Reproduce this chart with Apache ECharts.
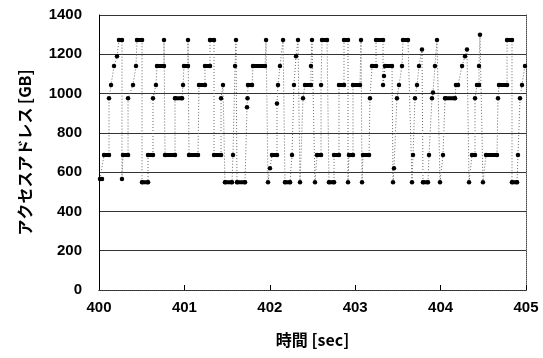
<!DOCTYPE html>
<html>
<head>
<meta charset="utf-8">
<script src="https://cdn.jsdelivr.net/npm/echarts@6/dist/echarts.min.js"></script>
<style>
  html, body { margin: 0; padding: 0; background: #fff; }
  #chart { width: 543px; height: 358px; }
</style>
</head>
<body>
<div id="chart"></div>
<script>
// アクセス区間（時間 [sec] の開始・終了とアドレス [GB]）
const runStart = [
  400.012, 400.059, 400.117, 400.141, 400.176, 400.211, 400.234, 400.269, 400.281, 400.340,
  400.398, 400.433, 400.445, 400.504, 400.574, 400.632, 400.667, 400.679, 400.761, 400.773,
  400.890, 400.984, 400.995, 401.042, 401.054, 401.171, 401.241, 401.300, 401.347, 401.429,
  401.452, 401.475, 401.569, 401.593, 401.604, 401.616, 401.733, 401.739, 401.745, 401.803,
  401.956, 401.979, 402.002, 402.026, 402.084, 402.096, 402.119, 402.155, 402.178, 402.260,
  402.283, 402.307, 402.330, 402.354, 402.389, 402.412, 402.482, 402.494, 402.529, 402.553,
  402.600, 402.611, 402.693, 402.752, 402.810, 402.869, 402.916, 402.927, 402.974, 403.068,
  403.080, 403.091, 403.173, 403.197, 403.244, 403.326, 403.337, 403.349, 403.443, 403.454,
  403.489, 403.513, 403.548, 403.560, 403.665, 403.677, 403.700, 403.724, 403.747, 403.782,
  403.794, 403.864, 403.899, 403.911, 403.934, 403.958, 403.993, 404.028, 404.052, 404.180,
  404.251, 404.286, 404.309, 404.333, 404.368, 404.403, 404.426, 404.450, 404.461, 404.496,
  404.532, 404.672, 404.684, 404.778, 404.836, 404.906, 404.930, 404.953, 404.988
];
const runEnd = [
  400.035, 400.117, 400.117, 400.141, 400.176, 400.211, 400.269, 400.269, 400.340, 400.340,
  400.398, 400.433, 400.504, 400.574, 400.632, 400.632, 400.667, 400.761, 400.761, 400.890,
  400.972, 400.984, 401.042, 401.042, 401.159, 401.241, 401.300, 401.347, 401.429, 401.429,
  401.452, 401.557, 401.569, 401.593, 401.604, 401.710, 401.733, 401.739, 401.792, 401.944,
  401.956, 401.979, 402.002, 402.084, 402.084, 402.096, 402.119, 402.155, 402.237, 402.260,
  402.283, 402.307, 402.330, 402.354, 402.389, 402.482, 402.482, 402.494, 402.529, 402.600,
  402.600, 402.670, 402.752, 402.810, 402.869, 402.916, 402.916, 402.974, 403.056, 403.068,
  403.080, 403.162, 403.173, 403.244, 403.326, 403.326, 403.337, 403.431, 403.443, 403.454,
  403.489, 403.513, 403.548, 403.618, 403.665, 403.677, 403.700, 403.724, 403.747, 403.782,
  403.852, 403.864, 403.899, 403.911, 403.934, 403.958, 403.993, 404.028, 404.169, 404.204,
  404.251, 404.286, 404.309, 404.333, 404.403, 404.403, 404.450, 404.450, 404.461, 404.496,
  404.660, 404.672, 404.778, 404.836, 404.895, 404.906, 404.930, 404.953, 404.988
];
const runValue = [
  565, 687, 976, 1044, 1140, 1190, 1273, 565, 687, 976,
  1044, 1140, 1273, 549, 687, 976, 1044, 1140, 1273, 687,
  976, 1044, 1140, 1273, 687, 1044, 1140, 1273, 687, 976,
  1044, 549, 687, 1140, 1273, 549, 930, 976, 1044, 1140,
  1273, 549, 620, 687, 950, 1044, 1140, 1273, 549, 687,
  1044, 1190, 1273, 549, 976, 1044, 1140, 1273, 549, 687,
  1044, 1273, 549, 687, 1044, 1273, 549, 687, 1044, 1273,
  549, 687, 976, 1140, 1273, 1044, 1090, 1140, 549, 620,
  976, 1044, 1140, 1273, 549, 687, 976, 1044, 1140, 1225,
  549, 687, 976, 1005, 1140, 1273, 549, 687, 976, 1044,
  1140, 1190, 1225, 549, 687, 976, 1044, 1140, 1300, 549,
  687, 976, 1044, 1273, 549, 687, 976, 1044, 1140
];

const xTicks = [400, 401, 402, 403, 404, 405];
const yTicks = [0, 200, 400, 600, 800, 1000, 1200, 1400];

// 区間を順番につないだ点列（始点と終点）
const trace = [];
runStart.forEach((s, i) => {
  trace.push([s, runValue[i]]);
  if (runEnd[i] !== s) trace.push([runEnd[i], runValue[i]]);
});
const runs = runStart.map((s, i) => [s, runEnd[i], runValue[i]]);

const numFont = '"Liberation Sans", Arial, sans-serif';
const jpFont = '"Noto Sans CJK JP", sans-serif';

const chart = echarts.init(document.getElementById('chart'));
chart.setOption({
  animation: false,
  grid: { left: 99, right: 17, top: 15, bottom: 68 },
  xAxis: [{
    type: 'value',
    min: xTicks[0],
    max: xTicks[xTicks.length - 1],
    interval: 1,
    name: '時間 [sec]',
    nameLocation: 'middle',
    nameGap: 42,
    nameTextStyle: { fontFamily: jpFont, fontWeight: 'bold', fontSize: 16, color: '#000' },
    axisLine: { lineStyle: { color: '#000', width: 1 } },
    axisTick: { inside: true, length: 5, lineStyle: { color: '#000' } },
    axisLabel: {
      margin: 10, fontFamily: numFont, fontWeight: 'bold', fontSize: 15, color: '#000',
      formatter: v => String(v)
    },
    splitLine: { show: false }
  }, {
    type: 'value',
    position: 'top',
    min: xTicks[0],
    max: xTicks[xTicks.length - 1],
    axisLine: { lineStyle: { color: '#444', type: [1, 1] } },
    axisTick: { show: false },
    axisLabel: { show: false },
    splitLine: { show: false }
  }],
  yAxis: [{
    type: 'value',
    min: yTicks[0],
    max: yTicks[yTicks.length - 1],
    interval: 200,
    name: 'アクセスアドレス [GB]',
    nameLocation: 'middle',
    nameGap: 66,
    nameRotate: 90,
    nameTextStyle: { fontFamily: jpFont, fontWeight: 'bold', fontSize: 16, color: '#000' },
    axisLine: { show: true, lineStyle: { color: '#000', width: 1 } },
    axisTick: { show: false },
    axisLabel: {
      margin: 17, fontFamily: numFont, fontWeight: 'bold', fontSize: 15, color: '#000',
      formatter: v => String(v)
    },
    splitLine: { lineStyle: { color: '#333', width: 1 } }
  }, {
    type: 'value',
    position: 'right',
    min: yTicks[0],
    max: yTicks[yTicks.length - 1],
    axisLine: { show: true, lineStyle: { color: '#444', type: [1, 1] } },
    axisTick: { show: false },
    axisLabel: { show: false },
    splitLine: { show: false }
  }],
  series: [{
    name: 'trace',
    type: 'line',
    data: trace,
    symbol: 'circle',
    symbolSize: 4.5,
    itemStyle: { color: '#000' },
    lineStyle: { color: '#666', width: 1, type: [1, 2] },
    z: 2
  }, {
    name: 'runs',
    type: 'custom',
    data: runs,
    renderItem: (params, api) => {
      const p1 = api.coord([api.value(0), api.value(2)]);
      const p2 = api.coord([api.value(1), api.value(2)]);
      return {
        type: 'line',
        shape: { x1: p1[0], y1: p1[1], x2: p2[0], y2: p2[1] },
        style: { stroke: '#000', lineWidth: 4, lineCap: 'round' }
      };
    },
    z: 3
  }]
});
</script>
</body>
</html>
